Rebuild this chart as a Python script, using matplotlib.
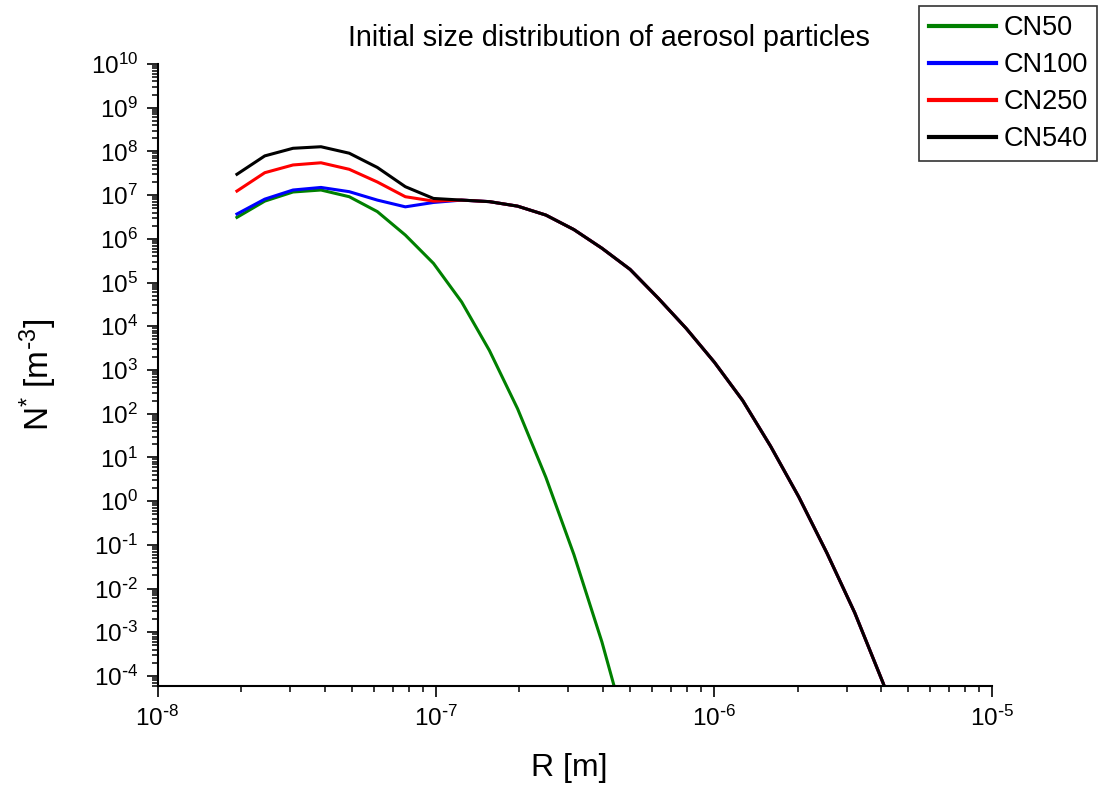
import numpy as np
import matplotlib
matplotlib.use("Agg")
import matplotlib.pyplot as plt
from matplotlib.ticker import LogLocator, NullFormatter, FuncFormatter

plt.rcParams['font.family'] = ['Liberation Sans', 'DejaVu Sans']
plt.rcParams['mathtext.default'] = 'regular'
plt.rcParams['axes.unicode_minus'] = False

# radius bins [m]
radius = [1.93e-8, 2.43e-8, 3.07e-8, 3.87e-8, 4.89e-8, 6.17e-8, 7.78e-8,
          9.82e-8, 1.24e-7, 1.56e-7, 1.97e-7, 2.49e-7, 3.14e-7, 3.96e-7,
          5.00e-7, 6.31e-7, 7.96e-7, 1.005e-6, 1.27e-6, 1.60e-6, 2.02e-6,
          2.55e-6, 3.21e-6, 4.06e-6, 5.12e-6]

# shared large-particle tail (bins 8..24) for CN100/CN250/CN540
tail = [7.7e6, 7.1e6, 5.6e6, 3.5e6, 1.63e6, 6.1e5, 2.0e5, 4.4e4, 8.9e3,
        1.5e3, 2.0e2, 18, 1.25, 6.5e-2, 2.8e-3, 6.9e-5, 1.3e-6]

cn50 = [3.1e6, 7.3e6, 1.18e7, 1.31e7, 9.2e6, 4.2e6, 1.22e6, 2.75e5, 3.6e4,
        2.8e3, 1.3e2, 3.5, 6.0e-2, 6.0e-4, 2.8e-6]
cn100 = [3.7e6, 8.1e6, 1.31e7, 1.5e7, 1.2e7, 7.7e6, 5.4e6, 6.8e6] + tail
cn250 = [1.24e7, 3.26e7, 4.9e7, 5.5e7, 3.9e7, 2.0e7, 9.2e6, 7.3e6] + tail
cn540 = [3.0e7, 7.9e7, 1.18e8, 1.28e8, 9.1e7, 4.3e7, 1.56e7, 8.4e6] + tail

labels = ['CN50', 'CN100', 'CN250', 'CN540']
colors = ['#008000', '#0000FF', '#FF0000', '#000000']
series = [cn50, cn100, cn250, cn540]


def pow10(v, pos):
    e = int(round(np.log10(v)))
    s = str(e).replace('-', r'\text{-}')
    return r'$10^{%s}$' % s


fig = plt.figure(figsize=(11.01, 7.87), dpi=100)
ax = fig.add_axes([157.5 / 1101, 1 - 686 / 787, (992 - 157.5) / 1101, (686 - 64) / 787])

for y, c, lab in zip(series, colors, labels):
    ax.plot(radius[:len(y)], y, color=c, lw=2.2, label=lab)

ax.set_xscale('log')
ax.set_yscale('log')
ax.set_xlim(1e-8, 1e-5)
ax.set_ylim(5.9e-5, 1e10)

ax.xaxis.set_major_locator(LogLocator(base=10, numticks=20))
ax.xaxis.set_minor_locator(LogLocator(base=10, subs=np.arange(2, 10), numticks=20))
ax.yaxis.set_major_locator(LogLocator(base=10, numticks=40))
ax.yaxis.set_minor_locator(LogLocator(base=10, subs=np.arange(2, 10), numticks=40))
ax.xaxis.set_major_formatter(FuncFormatter(pow10))
ax.yaxis.set_major_formatter(FuncFormatter(pow10))
ax.xaxis.set_minor_formatter(NullFormatter())
ax.yaxis.set_minor_formatter(NullFormatter())

for s in ['top', 'right']:
    ax.spines[s].set_visible(False)
for s in ['left', 'bottom']:
    ax.spines[s].set_linewidth(1.5)

ax.tick_params(which='major', direction='out', length=8, width=1.2, labelsize=17.5, pad=6)
ax.tick_params(which='minor', direction='out', length=4.5, width=1.1)

ax.set_xlabel('R [m]', fontsize=23)
ax.xaxis.set_label_coords(0.494, -0.108)
ax.set_ylabel('N$^{*}$ [m$^{\\text{-}3}$]', fontsize=24)
ax.yaxis.set_label_coords(-0.118, 0.5)

fig.text(609 / 1101, 1 - 38 / 787, 'Initial size distribution of aerosol particles',
         fontsize=20.7, ha='center', va='center')

leg = fig.legend(loc='upper right', bbox_to_anchor=(1097 / 1101, 1 - 6 / 787),
                 bbox_transform=fig.transFigure, fontsize=19.5, frameon=True,
                 fancybox=False, edgecolor='black', borderaxespad=0,
                 handlelength=2.5, handletextpad=0.25, labelspacing=0.4,
                 borderpad=0.35)
leg.get_frame().set_linewidth(1.2)
for line in leg.get_lines():
    line.set_linewidth(3)

fig.savefig('out.png', dpi=100)
